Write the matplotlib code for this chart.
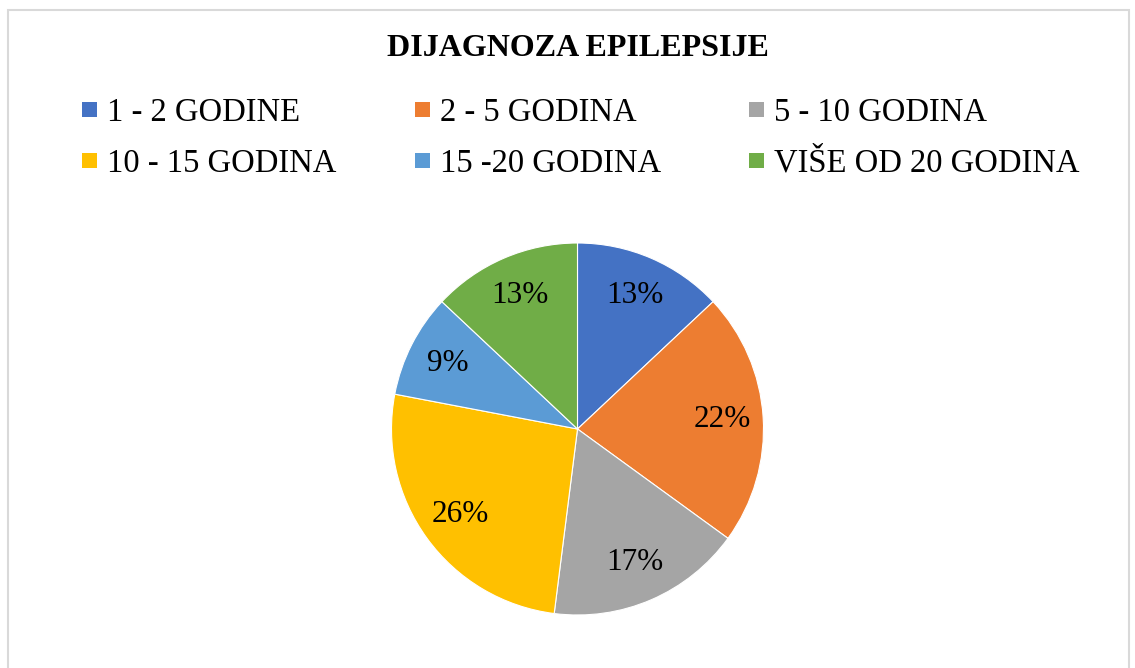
import matplotlib
matplotlib.use('Agg')
import matplotlib.pyplot as plt
import matplotlib.patches as patches

# Data
labels = ['1 - 2 GODINE', '2 - 5 GODINA', '5 - 10 GODINA',
          '10 - 15 GODINA', '15 -20 GODINA', 'VIŠE OD 20 GODINA']
values = [13, 22, 17, 26, 9, 13]
colors = ['#4472C4', '#ED7D31', '#A5A5A5', '#FFC000', '#5B9BD5', '#70AD47']
title = 'DIJAGNOZA EPILEPSIJE'

plt.rcParams['font.family'] = ['Liberation Serif', 'DejaVu Serif']

W, H = 1135, 668
fig = plt.figure(figsize=(W / 100, H / 100), dpi=100)

# Chart area border (light gray), bottom edge runs off the picture
border = patches.Rectangle((8 / W, -0.05), (1129 - 8) / W, 1.05 - 10 / H,
                           transform=fig.transFigure, fill=False,
                           edgecolor='#D9D9D9', linewidth=1.5)
fig.patches.append(border)

# Pie axes: centre (577.5, 429) px, radius 186 px
cx, cy, r = 577.5, 429, 186
ax = fig.add_axes([(cx - r) / W, (H - cy - r) / H, 2 * r / W, 2 * r / H])
wedges, texts, autotexts = ax.pie(values, colors=colors, startangle=90, counterclock=False,
                                  autopct='%1.0f%%', pctdistance=0.78,
                                  wedgeprops=dict(edgecolor='white', linewidth=0.8),
                                  textprops=dict(fontsize=22.5, color='black'))
ax.set_xlim(-1, 1)
ax.set_ylim(-1, 1)
ax.set_aspect('equal')

fig.text(cx / W, 1 - 49 / H, title, ha='center', va='center',
         fontsize=23, fontweight='bold')

# Legend laid out like Excel: 3 equal-width columns, 2 rows
col_x = [82, 415, 749]
row_y = [109, 160]
sq = 15
for i, (lab, col) in enumerate(zip(labels, colors)):
    x0 = col_x[i % 3]
    y0 = row_y[i // 3]
    fig.patches.append(patches.Rectangle((x0 / W, (H - y0 - sq / 2) / H), sq / W, sq / H,
                                         transform=fig.transFigure, facecolor=col,
                                         edgecolor='none'))
    fig.text((x0 + sq + 10) / W, 1 - y0 / H, lab, ha='left', va='center_baseline',
             fontsize=23.5)

fig.savefig('out.png', dpi=100)
